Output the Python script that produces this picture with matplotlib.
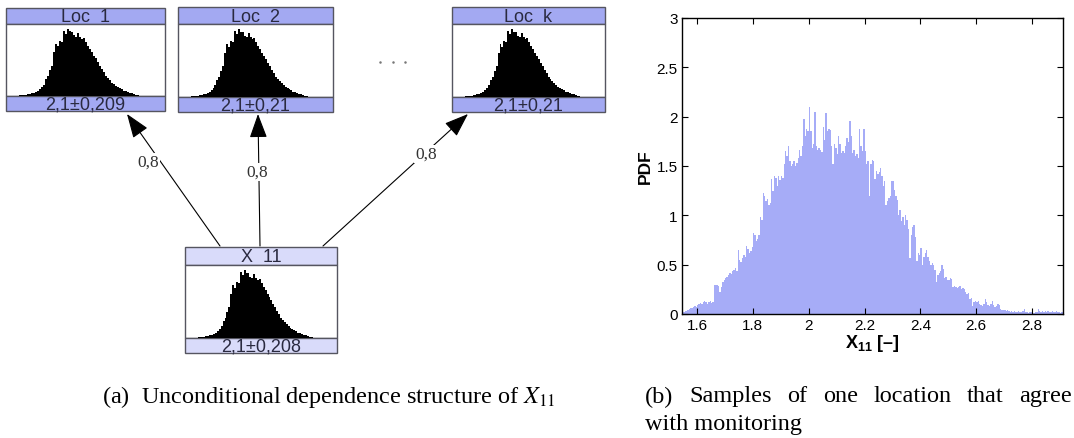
import matplotlib.pyplot as plt
from matplotlib.patches import Rectangle
from matplotlib.ticker import FormatStrFormatter
import numpy as np

# -----------------------------------------------------------------------
# Data
# -----------------------------------------------------------------------
node_names = ['Loc  1', 'Loc  2', 'Loc  k', 'X  11']
node_stats = ['2,1\u00b10,209', '2,1\u00b10,21', '2,1\u00b10,21', '2,1\u00b10,208']
edge_weights = ['0,8', '0,8', '0,8']

# shape of the small black histograms inside the nodes (relative heights)
node_hist = [0.01, 0.01, 0.02, 0.02, 0.03, 0.03, 0.04, 0.05, 0.06, 0.08,
             0.10, 0.13, 0.17, 0.25, 0.30, 0.38, 0.45, 0.65, 0.78, 0.74,
             0.82, 0.80, 0.97, 0.92, 1.00, 0.96, 0.95, 0.90, 0.88, 0.94,
             0.88, 0.85, 0.86, 0.80, 0.75, 0.70, 0.65, 0.60, 0.56, 0.50,
             0.45, 0.40, 0.35, 0.30, 0.27, 0.24, 0.20, 0.18, 0.15, 0.13,
             0.12, 0.10, 0.08, 0.07, 0.06, 0.05, 0.04, 0.03, 0.02, 0.01]

# PDF of X11 samples, bins of 0.005 starting at 1.55
bin_start = 1.55
bin_width = 0.005
pdf_vals = [
    # 1.55
    0.02, 0.03, 0.03, 0.04, 0.05, 0.06, 0.06, 0.07, 0.08, 0.07,
    # 1.60
    0.09, 0.10, 0.11, 0.10, 0.12, 0.13, 0.12, 0.10, 0.12, 0.13,
    0.11, 0.12, 0.29, 0.29, 0.29, 0.28, 0.22, 0.27, 0.32, 0.34,
    # 1.70
    0.36, 0.38, 0.40, 0.42, 0.41, 0.44, 0.45, 0.47, 0.44, 0.65,
    0.55, 0.53, 0.57, 0.60, 0.58, 0.69, 0.66, 0.62, 0.64, 0.68,
    # 1.80
    0.82, 0.80, 0.74, 0.76, 0.80, 0.98, 0.95, 1.23, 1.20, 1.15,
    1.17, 1.10, 1.12, 1.37, 1.25, 1.40, 1.38, 1.30, 1.40, 1.36,
    # 1.90
    1.40, 1.38, 1.52, 1.65, 1.60, 1.70, 1.55, 1.50, 1.52, 1.55,
    1.50, 1.53, 1.58, 1.66, 1.60, 1.70, 1.98, 1.80, 1.87, 1.85,
    # 2.00
    2.10, 1.85, 1.68, 1.72, 2.05, 1.70, 1.66, 1.68, 1.66, 1.64,
    1.90, 1.76, 2.04, 1.85, 1.87, 1.86, 1.70, 1.52, 1.72, 1.68,
    # 2.10
    1.62, 1.80, 1.72, 1.63, 1.65, 1.63, 1.70, 1.78, 1.74, 1.96,
    1.80, 1.63, 1.66, 1.60, 1.62, 1.58, 1.87, 1.70, 1.65, 1.87,
    # 2.20
    1.65, 1.52, 1.55, 1.20, 1.52, 1.56, 1.55, 1.37, 1.45, 1.42,
    1.44, 1.48, 1.40, 1.30, 1.35, 1.10, 1.15, 1.18, 1.20, 1.35,
    # 2.30
    1.35, 1.26, 1.20, 1.16, 1.00, 1.05, 0.94, 0.98, 0.90, 1.00,
    0.95, 0.86, 0.57, 0.80, 0.88, 0.90, 0.78, 0.54, 0.62, 0.60,
    # 2.40
    0.67, 0.50, 0.58, 0.62, 0.65, 0.58, 0.54, 0.50, 0.52, 0.50,
    0.45, 0.32, 0.40, 0.42, 0.44, 0.50, 0.46, 0.36, 0.38, 0.34,
    # 2.50
    0.34, 0.36, 0.35, 0.27, 0.28, 0.27, 0.26, 0.27, 0.28, 0.25,
    0.26, 0.25, 0.22, 0.20, 0.21, 0.15, 0.16, 0.08, 0.12, 0.13,
    # 2.60
    0.12, 0.13, 0.10, 0.09, 0.08, 0.10, 0.15, 0.12, 0.09, 0.08,
    0.10, 0.13, 0.09, 0.07, 0.08, 0.10, 0.09, 0.05, 0.04, 0.04,
    # 2.70
    0.04, 0.03, 0.04, 0.03, 0.02, 0.03, 0.02, 0.03, 0.02, 0.02,
    0.03, 0.02, 0.02, 0.03, 0.05, 0.02, 0.02, 0.01, 0.02, 0.02,
    # 2.80
    0.02, 0.01, 0.02, 0.02, 0.05, 0.03, 0.02, 0.03, 0.02, 0.03,
    0.02, 0.03, 0.02, 0.02, 0.03, 0.02, 0.02, 0.03, 0.02, 0.02,
    # 2.90
    0.01, 0.02]

x_ticks = [1.6, 1.8, 2.0, 2.2, 2.4, 2.6, 2.8]
y_ticks = [0, 0.5, 1, 1.5, 2, 2.5, 3]

# -----------------------------------------------------------------------
# Figure (work in pixel coordinates for the diagram)
# -----------------------------------------------------------------------
W, H = 1074, 439
fig = plt.figure(figsize=(W / 100, H / 100), dpi=100)

dg = fig.add_axes([0, 0, 1, 1])
dg.set_xlim(0, W)
dg.set_ylim(H, 0)
dg.axis('off')

dark_head = '#a3a9f2'
light_head = '#d9dbfa'
edge_col = '#555560'
txt_col = '#2a2a40'

# node boxes: x0, x1, top, header bottom, footer top, bottom
boxes = [(6, 165, 9, 25, 97, 112),
         (178, 333, 8, 25, 98, 113),
         (452, 605, 8, 25, 98, 113),
         (185, 337, 248, 266, 339, 354)]

for i, (x0, x1, top, hb, ft, bot) in enumerate(boxes):
    head_col = light_head if i == 3 else dark_head
    dg.add_patch(Rectangle((x0, top), x1 - x0, hb - top, facecolor=head_col,
                           edgecolor=edge_col, lw=1))
    dg.add_patch(Rectangle((x0, hb), x1 - x0, ft - hb, facecolor='white',
                           edgecolor=edge_col, lw=1))
    dg.add_patch(Rectangle((x0, ft), x1 - x0, bot - ft, facecolor=head_col,
                           edgecolor=edge_col, lw=1))
    xc = (x0 + x1) / 2
    dg.text(xc, (top + hb) / 2 + 0.5, node_names[i], ha='center', va='center',
            fontsize=13, family='Liberation Sans', color=txt_col)
    dg.text(xc, (ft + bot) / 2 + 0.5, node_stats[i], ha='center', va='center',
            fontsize=13, family='Liberation Sans', color=txt_col)

    # small black histogram
    ia = fig.add_axes([x0 / W, 1 - ft / H, (x1 - x0) / W, (ft - hb) / H])
    ia.bar(np.arange(len(node_hist)), node_hist, width=1.0, color='black', lw=0)
    ia.set_xlim(-7.2, 72.3)
    ia.set_ylim(0, 1.07)
    ia.axis('off')

for dx in (380, 393, 405):
    dg.plot(dx, 63, 'o', ms=1.8, color='#777777', mec='none')

# arrows from X 11 to the locations
arrow_lines = [((220, 247), (127, 115)),
               ((260, 247), (258, 115)),
               ((323, 247), (468, 115))]
label_pos = [(148, 163), (257, 173), (426, 155)]

for (start, end), lp, w in zip(arrow_lines, label_pos, edge_weights):
    dg.annotate('', xy=end, xytext=start,
                arrowprops=dict(arrowstyle='-|>,head_length=1.5,head_width=0.55',
                                mutation_scale=10, color='black', lw=0.8,
                                shrinkA=0, shrinkB=0))
    dg.text(lp[0], lp[1], w, ha='center', va='center', fontsize=12.5,
            family='Liberation Serif', color='#333333',
            bbox=dict(facecolor='white', edgecolor='none', pad=1))

# -----------------------------------------------------------------------
# Captions
# -----------------------------------------------------------------------
cap_font = dict(family='Liberation Serif', fontsize=17.5, math_fontfamily='stix')
dg.text(102, 397, '(a)  Unconditional dependence structure of $X_{11}$',
        ha='left', va='center', **cap_font)

# justified first line of caption (b)
words_b = ['(b)', 'Samples', 'of', 'one', 'location', 'that', 'agree']
renderer = fig.canvas.get_renderer()
tmp = [dg.text(0, 0, w, **cap_font) for w in words_b]
widths = [t.get_window_extent(renderer).width for t in tmp]
for t in tmp:
    t.remove()
left, right = 645, 1072
gap = (right - left - sum(widths)) / (len(words_b) - 1)
xpos = left
for w, wd in zip(words_b, widths):
    dg.text(xpos, 397, w, ha='left', va='center', **cap_font)
    xpos += wd + gap
dg.text(645, 425, 'with monitoring', ha='left', va='center', **cap_font)

# -----------------------------------------------------------------------
# Right panel: histogram of samples
# -----------------------------------------------------------------------
plt.rcParams['mathtext.fontset'] = 'custom'
plt.rcParams['mathtext.rm'] = 'Liberation Sans'
plt.rcParams['mathtext.bf'] = 'Liberation Sans:bold'

ax = fig.add_axes([682 / W, (H - 315) / H, (1063 - 682) / W, (315 - 19) / H])
edges = bin_start + bin_width * np.arange(len(pdf_vals))
ax.bar(edges, pdf_vals, width=bin_width, align='edge', color='#a6acf7', lw=0)

ax.set_xlim(1.546, 2.911)
ax.set_ylim(0, 3)
ax.set_xticks(x_ticks)
ax.set_yticks(y_ticks)
ax.xaxis.set_major_formatter(FormatStrFormatter('%g'))
ax.yaxis.set_major_formatter(FormatStrFormatter('%g'))
ax.tick_params(direction='in', top=True, right=True, length=4, width=0.8,
               labelsize=11, pad=3)
for lab in ax.get_xticklabels() + ax.get_yticklabels():
    lab.set_family('Liberation Sans')
for sp in ax.spines.values():
    sp.set_linewidth(1.0)

ax.set_ylabel('PDF', fontsize=12.5, fontweight='bold', family='Liberation Sans',
              labelpad=3)
ax.set_xlabel('$\\mathbf{X_{11}}$ [\u2013]', fontsize=13, fontweight='bold',
              family='Liberation Sans', math_fontfamily='custom', labelpad=0)

plt.savefig('out.png', dpi=100)
